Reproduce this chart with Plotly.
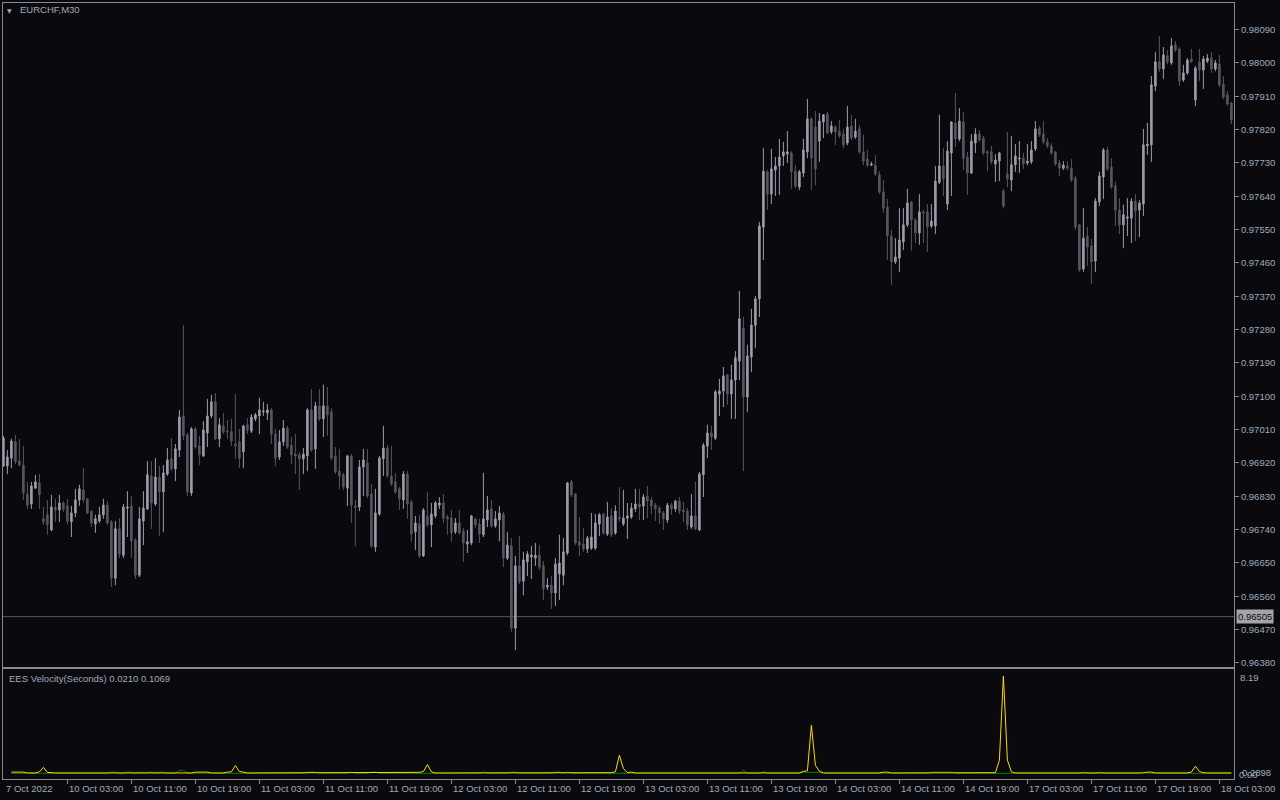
import plotly.graph_objects as go

# ---------------- data ----------------
open_ = [
    0.96912, 0.96912, 0.96933, 0.96977, 0.96925, 0.96914, 0.96836, 0.96809, 0.96852, 0.96866,
    0.96769, 0.96780, 0.96739, 0.96801, 0.96793, 0.96812, 0.96804, 0.96761, 0.96785, 0.96820,
    0.96847, 0.96823, 0.96790, 0.96755, 0.96763, 0.96780, 0.96806, 0.96761, 0.96609, 0.96742,
    0.96671, 0.96798, 0.96804, 0.96712, 0.96617, 0.96763, 0.96796, 0.96885, 0.96809, 0.96882,
    0.96842, 0.96890, 0.96931, 0.96904, 0.96955, 0.97047, 0.96996, 0.96839, 0.97012, 0.96966,
    0.96939, 0.97001, 0.97047, 0.97085, 0.96985, 0.97020, 0.97006, 0.97004, 0.96971, 0.96977,
    0.96950, 0.97023, 0.97006, 0.97039, 0.97047, 0.97058, 0.97055, 0.97063, 0.96998, 0.96936,
    0.96977, 0.97014, 0.96968, 0.96944, 0.96942, 0.96931, 0.96939, 0.97063, 0.96958, 0.97074,
    0.97039, 0.97074, 0.97058, 0.96939, 0.96898, 0.96888, 0.96852, 0.96939, 0.96804, 0.96801,
    0.96909, 0.96920, 0.96836, 0.96693, 0.96782, 0.96931, 0.96960, 0.96885, 0.96869, 0.96850,
    0.96820, 0.96890, 0.96815, 0.96734, 0.96755, 0.96669, 0.96777, 0.96753, 0.96777, 0.96806,
    0.96812, 0.96774, 0.96771, 0.96734, 0.96758, 0.96736, 0.96701, 0.96704, 0.96769, 0.96755,
    0.96726, 0.96766, 0.96796, 0.96750, 0.96766, 0.96782, 0.96663, 0.96696, 0.96474, 0.96642,
    0.96601, 0.96653, 0.96666, 0.96663, 0.96671, 0.96642, 0.96585, 0.96590, 0.96569, 0.96620,
    0.96617, 0.96677, 0.96869, 0.96836, 0.96707, 0.96701, 0.96688, 0.96690, 0.96690, 0.96755,
    0.96782, 0.96728, 0.96777, 0.96731, 0.96774, 0.96755, 0.96771, 0.96774, 0.96796, 0.96809,
    0.96804, 0.96831, 0.96820, 0.96806, 0.96798, 0.96785, 0.96766, 0.96806, 0.96796, 0.96817,
    0.96793, 0.96790, 0.96747, 0.96777, 0.96739, 0.96888, 0.96966, 0.97001, 0.96987, 0.97106,
    0.97114, 0.97158, 0.97106, 0.97144, 0.97195, 0.97284, 0.97098, 0.97206, 0.97292, 0.97363,
    0.97557, 0.97706, 0.97646, 0.97711, 0.97722, 0.97749, 0.97754, 0.97757, 0.97708, 0.97665,
    0.97703, 0.97760, 0.97849, 0.97827, 0.97789, 0.97841, 0.97862, 0.97814, 0.97827, 0.97816,
    0.97808, 0.97784, 0.97830, 0.97800, 0.97822, 0.97760, 0.97741, 0.97724, 0.97724, 0.97698,
    0.97652, 0.97611, 0.97533, 0.97463, 0.97473, 0.97517, 0.97563, 0.97625, 0.97576, 0.97541,
    0.97598, 0.97598, 0.97560, 0.97560, 0.97678, 0.97722, 0.97619, 0.97757, 0.97838, 0.97795,
    0.97841, 0.97746, 0.97703, 0.97784, 0.97808, 0.97797, 0.97760, 0.97760, 0.97727, 0.97735,
    0.97654, 0.97700, 0.97684, 0.97725, 0.97741, 0.97743, 0.97730, 0.97733, 0.97768, 0.97824,
    0.97808, 0.97787, 0.97776, 0.97760, 0.97730, 0.97716, 0.97722, 0.97716, 0.97689, 0.97563,
    0.97444, 0.97533, 0.97506, 0.97465, 0.97625, 0.97692, 0.97765, 0.97719, 0.97668, 0.97603,
    0.97563, 0.97581, 0.97581, 0.97627, 0.97603, 0.97619, 0.97776, 0.97779, 0.97938, 0.98003,
    0.97984, 0.98019, 0.98000, 0.98049, 0.98038, 0.97954, 0.97973, 0.98011, 0.97900, 0.98003,
    0.97981, 0.98005, 0.98013, 0.97984, 0.97997, 0.97943, 0.97914, 0.97892,
]

high = [
    0.96993, 0.96955, 0.96985, 0.96996, 0.96985, 0.96966, 0.96869, 0.96869, 0.96888, 0.96890,
    0.96801, 0.96820, 0.96834, 0.96823, 0.96834, 0.96817, 0.96823, 0.96804, 0.96850, 0.96861,
    0.96906, 0.96825, 0.96790, 0.96780, 0.96801, 0.96823, 0.96817, 0.96766, 0.96763, 0.96771,
    0.96809, 0.96844, 0.96831, 0.96717, 0.96801, 0.96844, 0.96925, 0.96925, 0.96933, 0.96912,
    0.96914, 0.96960, 0.96987, 0.96971, 0.97063, 0.97292, 0.97001, 0.97017, 0.97017, 0.96993,
    0.97033, 0.97093, 0.97104, 0.97109, 0.97041, 0.97055, 0.97036, 0.97039, 0.97106, 0.97012,
    0.97023, 0.97041, 0.97052, 0.97055, 0.97096, 0.97085, 0.97079, 0.97068, 0.97012, 0.97009,
    0.97036, 0.97020, 0.96990, 0.96998, 0.96950, 0.96960, 0.97068, 0.97120, 0.97085, 0.97120,
    0.97131, 0.97125, 0.97068, 0.96963, 0.96958, 0.96893, 0.96942, 0.96944, 0.96820, 0.96928,
    0.96958, 0.96958, 0.96863, 0.96850, 0.96939, 0.97020, 0.96968, 0.96966, 0.96893, 0.96855,
    0.96898, 0.96898, 0.96820, 0.96777, 0.96780, 0.96798, 0.96842, 0.96812, 0.96817, 0.96828,
    0.96836, 0.96780, 0.96793, 0.96771, 0.96793, 0.96744, 0.96739, 0.96780, 0.96771, 0.96769,
    0.96893, 0.96831, 0.96820, 0.96790, 0.96804, 0.96788, 0.96734, 0.96717, 0.96669, 0.96723,
    0.96680, 0.96682, 0.96696, 0.96704, 0.96698, 0.96655, 0.96609, 0.96615, 0.96663, 0.96726,
    0.96717, 0.96869, 0.96874, 0.96839, 0.96774, 0.96744, 0.96723, 0.96785, 0.96782, 0.96785,
    0.96785, 0.96815, 0.96798, 0.96806, 0.96855, 0.96847, 0.96812, 0.96812, 0.96850, 0.96850,
    0.96836, 0.96858, 0.96828, 0.96812, 0.96804, 0.96790, 0.96812, 0.96812, 0.96820, 0.96828,
    0.96815, 0.96798, 0.96836, 0.96869, 0.96896, 0.96974, 0.97023, 0.97020, 0.97117, 0.97147,
    0.97179, 0.97160, 0.97185, 0.97222, 0.97384, 0.97314, 0.97239, 0.97336, 0.97371, 0.97571,
    0.97770, 0.97711, 0.97768, 0.97746, 0.97795, 0.97787, 0.97816, 0.97762, 0.97724, 0.97711,
    0.97795, 0.97903, 0.97854, 0.97870, 0.97865, 0.97862, 0.97868, 0.97843, 0.97832, 0.97846,
    0.97822, 0.97884, 0.97860, 0.97849, 0.97832, 0.97806, 0.97765, 0.97733, 0.97752, 0.97708,
    0.97684, 0.97633, 0.97549, 0.97527, 0.97608, 0.97608, 0.97660, 0.97627, 0.97581, 0.97646,
    0.97603, 0.97619, 0.97619, 0.97722, 0.97860, 0.97770, 0.97789, 0.97843, 0.97919, 0.97878,
    0.97868, 0.97760, 0.97808, 0.97824, 0.97819, 0.97803, 0.97765, 0.97776, 0.97754, 0.97760,
    0.97660, 0.97814, 0.97803, 0.97781, 0.97789, 0.97757, 0.97781, 0.97789, 0.97843, 0.97830,
    0.97843, 0.97797, 0.97784, 0.97762, 0.97738, 0.97735, 0.97735, 0.97741, 0.97695, 0.97565,
    0.97608, 0.97557, 0.97525, 0.97635, 0.97706, 0.97770, 0.97773, 0.97743, 0.97679, 0.97635,
    0.97617, 0.97635, 0.97635, 0.97646, 0.97630, 0.97822, 0.97838, 0.97965, 0.98030, 0.98073,
    0.98043, 0.98035, 0.98067, 0.98059, 0.98043, 0.97995, 0.98013, 0.98038, 0.97992, 0.98038,
    0.98019, 0.98024, 0.98030, 0.98008, 0.98022, 0.97965, 0.97924, 0.97895,
]

low = [
    0.96909, 0.96890, 0.96906, 0.96917, 0.96912, 0.96820, 0.96796, 0.96796, 0.96850, 0.96796,
    0.96753, 0.96726, 0.96736, 0.96761, 0.96761, 0.96788, 0.96755, 0.96720, 0.96774, 0.96804,
    0.96812, 0.96782, 0.96747, 0.96731, 0.96758, 0.96769, 0.96753, 0.96585, 0.96590, 0.96663,
    0.96663, 0.96720, 0.96663, 0.96607, 0.96612, 0.96698, 0.96793, 0.96742, 0.96804, 0.96723,
    0.96734, 0.96885, 0.96898, 0.96871, 0.96936, 0.96982, 0.96831, 0.96831, 0.96958, 0.96914,
    0.96936, 0.96963, 0.97041, 0.96982, 0.96963, 0.96998, 0.96985, 0.96966, 0.96931, 0.96906,
    0.96906, 0.96998, 0.97001, 0.97033, 0.96998, 0.97047, 0.97036, 0.96971, 0.96912, 0.96928,
    0.96966, 0.96958, 0.96917, 0.96890, 0.96847, 0.96890, 0.96898, 0.96950, 0.96904, 0.97033,
    0.96990, 0.96993, 0.96928, 0.96890, 0.96850, 0.96847, 0.96804, 0.96758, 0.96696, 0.96790,
    0.96831, 0.96825, 0.96690, 0.96680, 0.96777, 0.96885, 0.96880, 0.96858, 0.96836, 0.96793,
    0.96796, 0.96769, 0.96707, 0.96685, 0.96663, 0.96666, 0.96747, 0.96693, 0.96771, 0.96796,
    0.96758, 0.96726, 0.96707, 0.96728, 0.96726, 0.96653, 0.96677, 0.96698, 0.96745, 0.96704,
    0.96720, 0.96747, 0.96745, 0.96745, 0.96709, 0.96639, 0.96658, 0.96464, 0.96415, 0.96593,
    0.96563, 0.96615, 0.96607, 0.96642, 0.96631, 0.96550, 0.96577, 0.96526, 0.96534, 0.96550,
    0.96590, 0.96671, 0.96828, 0.96698, 0.96669, 0.96680, 0.96677, 0.96685, 0.96685, 0.96723,
    0.96726, 0.96723, 0.96720, 0.96726, 0.96761, 0.96750, 0.96715, 0.96769, 0.96788, 0.96766,
    0.96766, 0.96771, 0.96782, 0.96763, 0.96755, 0.96739, 0.96758, 0.96780, 0.96788, 0.96782,
    0.96761, 0.96739, 0.96742, 0.96739, 0.96736, 0.96828, 0.96933, 0.96955, 0.96982, 0.97047,
    0.97071, 0.97077, 0.97039, 0.97039, 0.97144, 0.96898, 0.97058, 0.97166, 0.97230, 0.97314,
    0.97468, 0.97603, 0.97619, 0.97641, 0.97644, 0.97722, 0.97730, 0.97660, 0.97662, 0.97657,
    0.97692, 0.97743, 0.97657, 0.97670, 0.97733, 0.97797, 0.97808, 0.97808, 0.97778, 0.97797,
    0.97770, 0.97778, 0.97792, 0.97795, 0.97754, 0.97724, 0.97719, 0.97722, 0.97695, 0.97646,
    0.97595, 0.97468, 0.97400, 0.97457, 0.97436, 0.97495, 0.97557, 0.97493, 0.97514, 0.97509,
    0.97514, 0.97490, 0.97554, 0.97538, 0.97673, 0.97641, 0.97603, 0.97641, 0.97773, 0.97789,
    0.97711, 0.97644, 0.97700, 0.97757, 0.97787, 0.97752, 0.97708, 0.97727, 0.97679, 0.97681,
    0.97608, 0.97665, 0.97654, 0.97706, 0.97703, 0.97714, 0.97724, 0.97727, 0.97762, 0.97800,
    0.97781, 0.97770, 0.97752, 0.97722, 0.97695, 0.97711, 0.97711, 0.97679, 0.97549, 0.97436,
    0.97436, 0.97452, 0.97403, 0.97436, 0.97614, 0.97633, 0.97708, 0.97660, 0.97560, 0.97538,
    0.97500, 0.97533, 0.97514, 0.97519, 0.97530, 0.97587, 0.97752, 0.97733, 0.97924, 0.97976,
    0.97957, 0.97997, 0.97995, 0.98030, 0.97938, 0.97949, 0.97968, 0.98000, 0.97884, 0.97951,
    0.97930, 0.98000, 0.97973, 0.97978, 0.97935, 0.97903, 0.97884, 0.97835,
]

close = [
    0.96987, 0.96936, 0.96979, 0.96923, 0.96914, 0.96839, 0.96806, 0.96858, 0.96869, 0.96834,
    0.96761, 0.96753, 0.96801, 0.96793, 0.96812, 0.96796, 0.96763, 0.96785, 0.96820, 0.96850,
    0.96820, 0.96785, 0.96758, 0.96769, 0.96780, 0.96806, 0.96758, 0.96609, 0.96742, 0.96674,
    0.96801, 0.96801, 0.96709, 0.96617, 0.96769, 0.96798, 0.96888, 0.96812, 0.96882, 0.96842,
    0.96893, 0.96928, 0.96904, 0.96958, 0.97044, 0.96993, 0.96842, 0.97012, 0.96963, 0.96942,
    0.97009, 0.97047, 0.97085, 0.96985, 0.97023, 0.97004, 0.97004, 0.96979, 0.96966, 0.96933,
    0.97020, 0.97009, 0.97044, 0.97050, 0.97063, 0.97060, 0.97063, 0.96998, 0.96933, 0.96977,
    0.97014, 0.96963, 0.96942, 0.96939, 0.96931, 0.96944, 0.97063, 0.96955, 0.97074, 0.97039,
    0.97074, 0.97050, 0.96933, 0.96896, 0.96885, 0.96855, 0.96939, 0.96806, 0.96801, 0.96909,
    0.96928, 0.96831, 0.96696, 0.96785, 0.96933, 0.96960, 0.96885, 0.96863, 0.96842, 0.96823,
    0.96890, 0.96809, 0.96728, 0.96758, 0.96669, 0.96793, 0.96753, 0.96782, 0.96812, 0.96812,
    0.96771, 0.96769, 0.96731, 0.96758, 0.96731, 0.96704, 0.96707, 0.96777, 0.96753, 0.96728,
    0.96769, 0.96793, 0.96750, 0.96769, 0.96785, 0.96663, 0.96698, 0.96474, 0.96642, 0.96599,
    0.96658, 0.96674, 0.96671, 0.96671, 0.96639, 0.96580, 0.96590, 0.96569, 0.96647, 0.96650,
    0.96680, 0.96866, 0.96834, 0.96704, 0.96698, 0.96688, 0.96717, 0.96720, 0.96758, 0.96780,
    0.96731, 0.96774, 0.96726, 0.96790, 0.96769, 0.96771, 0.96777, 0.96798, 0.96809, 0.96801,
    0.96828, 0.96817, 0.96804, 0.96796, 0.96785, 0.96769, 0.96806, 0.96796, 0.96817, 0.96790,
    0.96788, 0.96753, 0.96777, 0.96742, 0.96890, 0.96968, 0.97001, 0.96990, 0.97112, 0.97114,
    0.97155, 0.97106, 0.97144, 0.97204, 0.97309, 0.97098, 0.97209, 0.97292, 0.97363, 0.97560,
    0.97708, 0.97646, 0.97714, 0.97722, 0.97746, 0.97760, 0.97760, 0.97706, 0.97668, 0.97706,
    0.97765, 0.97849, 0.97743, 0.97714, 0.97843, 0.97860, 0.97811, 0.97830, 0.97814, 0.97803,
    0.97778, 0.97827, 0.97797, 0.97816, 0.97760, 0.97735, 0.97724, 0.97727, 0.97700, 0.97652,
    0.97608, 0.97533, 0.97463, 0.97476, 0.97522, 0.97563, 0.97622, 0.97576, 0.97541, 0.97598,
    0.97595, 0.97557, 0.97573, 0.97681, 0.97722, 0.97687, 0.97762, 0.97841, 0.97795, 0.97843,
    0.97743, 0.97703, 0.97789, 0.97808, 0.97792, 0.97757, 0.97757, 0.97733, 0.97738, 0.97757,
    0.97614, 0.97687, 0.97725, 0.97749, 0.97743, 0.97727, 0.97735, 0.97765, 0.97822, 0.97806,
    0.97787, 0.97776, 0.97757, 0.97727, 0.97716, 0.97724, 0.97716, 0.97684, 0.97557, 0.97441,
    0.97527, 0.97503, 0.97463, 0.97627, 0.97695, 0.97765, 0.97714, 0.97665, 0.97603, 0.97563,
    0.97590, 0.97584, 0.97627, 0.97600, 0.97622, 0.97779, 0.97781, 0.97941, 0.98003, 0.97984,
    0.98022, 0.98003, 0.98046, 0.98035, 0.97951, 0.97973, 0.98008, 0.98003, 0.97986, 0.97981,
    0.98011, 0.98013, 0.97984, 0.98000, 0.97941, 0.97908, 0.97889, 0.97846,
]

# EES Velocity indicator (yellow and green lines), one value per bar
vel_yellow = [
    None, None, 0.10, 0.10, 0.10, 0.10, 0.03, 0.03, 0.03, 0.12, 0.50, 0.08, 0.03, 0.03, 0.03, 0.03, 0.03, 0.03, 0.03, 0.03,
    0.03, 0.03, 0.03, 0.03, 0.03, 0.03, 0.03, 0.03, 0.03, 0.03, 0.03, 0.03, 0.03, 0.03, 0.03, 0.03, 0.03, 0.03, 0.03, 0.03,
    0.03, 0.03, 0.03, 0.03, 0.03, 0.03, 0.03, 0.03, 0.10, 0.10, 0.10, 0.10, 0.03, 0.03, 0.03, 0.03, 0.10, 0.12, 0.65, 0.15,
    0.10, 0.03, 0.03, 0.03, 0.03, 0.03, 0.03, 0.03, 0.03, 0.03, 0.03, 0.03, 0.03, 0.03, 0.03, 0.03, 0.03, 0.03, 0.03, 0.03,
    0.03, 0.03, 0.03, 0.03, 0.03, 0.03, 0.03, 0.03, 0.03, 0.03, 0.03, 0.03, 0.03, 0.03, 0.03, 0.03, 0.03, 0.03, 0.03, 0.03,
    0.03, 0.03, 0.03, 0.03, 0.08, 0.15, 0.73, 0.12, 0.03, 0.03, 0.03, 0.03, 0.03, 0.03, 0.03, 0.03, 0.03, 0.03, 0.03, 0.03,
    0.03, 0.03, 0.03, 0.03, 0.03, 0.03, 0.03, 0.03, 0.03, 0.03, 0.03, 0.03, 0.03, 0.03, 0.03, 0.03, 0.03, 0.03, 0.03, 0.03,
    0.03, 0.03, 0.03, 0.03, 0.03, 0.03, 0.03, 0.03, 0.03, 0.03, 0.03, 0.03, 0.05, 0.12, 1.52, 0.40, 0.06, 0.10, 0.03, 0.03,
    0.03, 0.03, 0.03, 0.03, 0.03, 0.03, 0.03, 0.03, 0.03, 0.03, 0.03, 0.03, 0.03, 0.03, 0.03, 0.03, 0.03, 0.03, 0.03, 0.03,
    0.03, 0.03, 0.03, 0.08, 0.08, 0.03, 0.03, 0.03, 0.03, 0.03, 0.03, 0.03, 0.03, 0.03, 0.03, 0.03, 0.03, 0.03, 0.03, 0.03,
    0.17, 0.20, 4.05, 0.68, 0.17, 0.03, 0.03, 0.03, 0.03, 0.03, 0.03, 0.03, 0.03, 0.03, 0.03, 0.03, 0.03, 0.03, 0.03, 0.03,
    0.10, 0.10, 0.03, 0.03, 0.03, 0.03, 0.03, 0.03, 0.03, 0.03, 0.03, 0.03, 0.03, 0.03, 0.03, 0.03, 0.03, 0.03, 0.03, 0.03,
    0.03, 0.03, 0.03, 0.03, 0.03, 0.03, 0.03, 0.03, 0.05, 1.10, 8.19, 1.10, 0.12, 0.03, 0.03, 0.03, 0.03, 0.03, 0.03, 0.03,
    0.03, 0.03, 0.03, 0.03, 0.03, 0.03, 0.03, 0.03, 0.03, 0.03, 0.03, 0.03, 0.03, 0.03, 0.03, 0.03, 0.03, 0.03, 0.03, 0.03,
    0.03, 0.03, 0.03, 0.03, 0.03, 0.03, 0.10, 0.10, 0.03, 0.03, 0.03, 0.03, 0.03, 0.03, 0.03, 0.03, 0.03, 0.10, 0.60, 0.15,
    0.05, 0.03, 0.03, 0.03, 0.03, 0.03, 0.03, 0.03,
]

vel_green = [
    None, None, 0, 0, 0, 0, 0, 0, 0, 0, 0, 0, 0, 0, 0, 0, 0, 0, 0, 0,
    0, 0, 0, 0, 0, 0, 0, 0.10, 0.10, 0, 0, 0.10, 0.10, 0, 0.10, 0, 0.10, 0.10, 0, 0.10,
    0.10, 0, 0, 0, 0.25, 0.25, 0, 0, 0, 0, 0, 0, 0, 0, 0, 0, 0, 0, 0, 0,
    0, 0, 0, 0, 0, 0, 0, 0, 0, 0, 0, 0, 0, 0, 0, 0, 0.10, 0.10, 0.10, 0,
    0, 0, 0, 0, 0, 0, 0, 0.10, 0, 0, 0, 0, 0.10, 0.10, 0, 0, 0, 0, 0, 0,
    0, 0, 0, 0, 0, 0, 0, 0, 0, 0, 0, 0, 0, 0, 0, 0, 0, 0, 0, 0,
    0.10, 0, 0, 0, 0, 0, 0, 0.10, 0.10, 0, 0, 0, 0, 0, 0, 0, 0, 0, 0.10, 0.10,
    0, 0.10, 0, 0, 0, 0, 0, 0, 0, 0, 0, 0, 0, 0, 0, 0, 0, 0, 0, 0,
    0, 0, 0, 0, 0, 0, 0, 0, 0, 0, 0, 0, 0, 0, 0, 0, 0, 0, 0, 0,
    0, 0, 0, 0, 0, 0.25, 0, 0, 0, 0, 0.15, 0, 0, 0, 0, 0, 0, 0, 0, 0,
    0.08, 0.08, 0.08, 0.08, 0.08, 0, 0, 0, 0, 0, 0, 0, 0, 0, 0, 0, 0, 0, 0, 0,
    0, 0, 0, 0, 0, 0, 0, 0, 0, 0, 0, 0, 0.10, 0.10, 0.10, 0.10, 0.10, 0.10, 0, 0,
    0, 0, 0, 0, 0, 0, 0, 0, 0, 0, 0, 0, 0, 0, 0, 0, 0, 0, 0, 0,
    0, 0, 0, 0, 0, 0, 0, 0, 0, 0, 0.10, 0, 0, 0, 0.10, 0, 0, 0, 0, 0,
    0, 0, 0, 0, 0, 0.10, 0, 0, 0, 0, 0, 0, 0, 0, 0, 0, 0, 0, 0, 0,
    0, 0, 0, 0, 0, 0, 0, 0,
]

# time axis labels (bar index -> label)
tick_idx = [0, 16, 32, 48, 64, 80, 96, 112, 128, 144, 160, 176, 192, 208, 224, 240, 256, 272, 288, 304]
tick_text = ["7 Oct 2022", "10 Oct 03:00", "10 Oct 11:00", "10 Oct 19:00", "11 Oct 03:00",
             "11 Oct 11:00", "11 Oct 19:00", "12 Oct 03:00", "12 Oct 11:00", "12 Oct 19:00",
             "13 Oct 03:00", "13 Oct 11:00", "13 Oct 19:00", "14 Oct 03:00", "14 Oct 11:00",
             "14 Oct 19:00", "17 Oct 03:00", "17 Oct 11:00", "17 Oct 19:00", "18 Oct 03:00"]

price_ticks = [0.98090, 0.98000, 0.97910, 0.97820, 0.97730, 0.97640, 0.97550, 0.97460, 0.97370, 0.97280,
               0.97190, 0.97100, 0.97010, 0.96920, 0.96830, 0.96740, 0.96650, 0.96560, 0.96470, 0.96380]
ref_price = 0.96505
ind_max_label = "8.19"
ind_min_labels = ["0.2898", "0.00"]
symbol_label = "EURCHF,M30"
indicator_label = "EES Velocity(Seconds) 0.0210 0.1069"

n = len(close)
assert len(open_) == n and len(high) == n and len(low) == n
assert len(vel_yellow) == n and len(vel_green) == n
bars = list(range(n))

# ---------------- style ----------------
BG = "#0a0a0e"
FRAME = "#8a8a8e"
TXT = "#9eaabd"
FONT = "Liberation Sans"
UP = "#9d9dab"
DOWN = "#56565e"

W, H = 1280, 800
ML, MR, MT, MB = 3, 46, 3, 21
PW = W - ML - MR
PH = H - MT - MB


def px_x(px):
    return (px - ML) / PW


def px_y(py):
    return (H - MB - py) / PH


fig = go.Figure()
fig.add_trace(go.Candlestick(
    x=bars, open=open_, high=high, low=low, close=close,
    increasing=dict(line=dict(color=UP, width=1), fillcolor=UP),
    decreasing=dict(line=dict(color=DOWN, width=1), fillcolor=DOWN),
    whiskerwidth=0, xaxis="x", yaxis="y", showlegend=False, hoverinfo="skip",
))
fig.add_trace(go.Scatter(
    x=bars, y=vel_green, mode="lines", line=dict(color="#008000", width=1),
    xaxis="x2", yaxis="y2", showlegend=False, hoverinfo="skip",
))
fig.add_trace(go.Scatter(
    x=bars, y=vel_yellow, mode="lines", line=dict(color="#ffd700", width=1),
    xaxis="x2", yaxis="y2", showlegend=False, hoverinfo="skip",
))

xr = [-0.1, -0.1 + PW / 4.0]
main_dom = [(H - MB - 667) / PH, 1.0]
ind_dom = [0.0, (H - MB - 669) / PH]

fig.update_layout(
    width=W, height=H,
    paper_bgcolor=BG, plot_bgcolor=BG,
    margin=dict(l=ML, r=MR, t=MT, b=MB, pad=0, autoexpand=False),
    showlegend=False,
    boxgap=0.45,
    font=dict(family=FONT, size=9.5, color=TXT),
    xaxis=dict(
        domain=[0, 1], anchor="y", range=xr, rangeslider=dict(visible=False),
        showticklabels=False, ticks="", showgrid=False, zeroline=False,
        showline=True, mirror=True, linecolor=FRAME, linewidth=1,
    ),
    yaxis=dict(
        domain=main_dom, anchor="x", side="right",
        range=[0.96369, 0.98162],
        tickvals=price_ticks, ticktext=[f"{v:.5f}" for v in price_ticks],
        ticks="outside", ticklen=4, tickcolor=FRAME, tickwidth=1,
        tickfont=dict(family=FONT, size=9.5, color=TXT),
        showgrid=False, zeroline=False,
        showline=True, mirror=True, linecolor=FRAME, linewidth=1,
    ),
    xaxis2=dict(
        domain=[0, 1], anchor="y2", range=xr, matches="x",
        tickvals=tick_idx[1:], ticks="outside", ticklen=4, tickcolor=FRAME, tickwidth=1,
        showticklabels=False, showgrid=False, zeroline=False,
        showline=True, mirror=True, linecolor=FRAME, linewidth=1,
    ),
    yaxis2=dict(
        domain=ind_dom, anchor="x2", side="right", range=[-0.48, 8.78],
        showticklabels=False, ticks="", showgrid=False, zeroline=False,
        showline=True, mirror=True, linecolor=FRAME, linewidth=1,
    ),
)

# horizontal price line
fig.add_shape(type="line", xref="x", yref="y", x0=xr[0], x1=xr[1], y0=ref_price, y1=ref_price,
              line=dict(color="#55555c", width=1), layer="below")

ann = []
# price box label on the right axis
ann.append(dict(xref="paper", yref="y", x=px_x(1236), y=ref_price, xanchor="left", yanchor="middle",
                text=f"{ref_price:.5f}", showarrow=False, bgcolor="#a5a5a8", borderpad=1,
                font=dict(family=FONT, size=9.5, color="#0a0a10")))
# symbol title with small triangle
ann.append(dict(xref="paper", yref="paper", x=px_x(9), y=px_y(10.5), xanchor="center", yanchor="middle",
                text="▼", showarrow=False, font=dict(family="DejaVu Sans", size=6, color=TXT)))
ann.append(dict(xref="paper", yref="paper", x=px_x(18), y=px_y(10), xanchor="left", yanchor="middle",
                text=symbol_label, showarrow=False, font=dict(family=FONT, size=9.5, color=TXT)))
# indicator title
ann.append(dict(xref="paper", yref="paper", x=px_x(7), y=px_y(678), xanchor="left", yanchor="middle",
                text=indicator_label, showarrow=False, font=dict(family=FONT, size=9.5, color=TXT)))
# indicator scale labels
ann.append(dict(xref="paper", yref="paper", x=px_x(1238), y=px_y(677), xanchor="left", yanchor="middle",
                text=ind_max_label, showarrow=False, font=dict(family=FONT, size=9.5, color=TXT)))
ann.append(dict(xref="paper", yref="paper", x=px_x(1240), y=px_y(772), xanchor="left", yanchor="middle",
                text=ind_min_labels[0], showarrow=False, font=dict(family=FONT, size=9.5, color=TXT)))
ann.append(dict(xref="paper", yref="paper", x=px_x(1237), y=px_y(774.5), xanchor="left", yanchor="middle",
                text=ind_min_labels[1], showarrow=False, font=dict(family=FONT, size=9.5, color=TXT)))
# time labels (left-aligned at their tick, like MT4)
for idx, txt in zip(tick_idx, tick_text):
    ann.append(dict(xref="x2", yref="paper", x=idx, y=px_y(788), xanchor="left", yanchor="middle",
                    xshift=0 if idx else 1, text=txt, showarrow=False,
                    font=dict(family=FONT, size=9.5, color=TXT)))
fig.update_layout(annotations=ann)

fig.write_html(
    "out.html", include_plotlyjs=True, config={"displayModeBar": False},
    post_script="document.body.style.margin='0';document.body.style.overflow='hidden';"
                "document.body.style.background='" + BG + "';",
)
